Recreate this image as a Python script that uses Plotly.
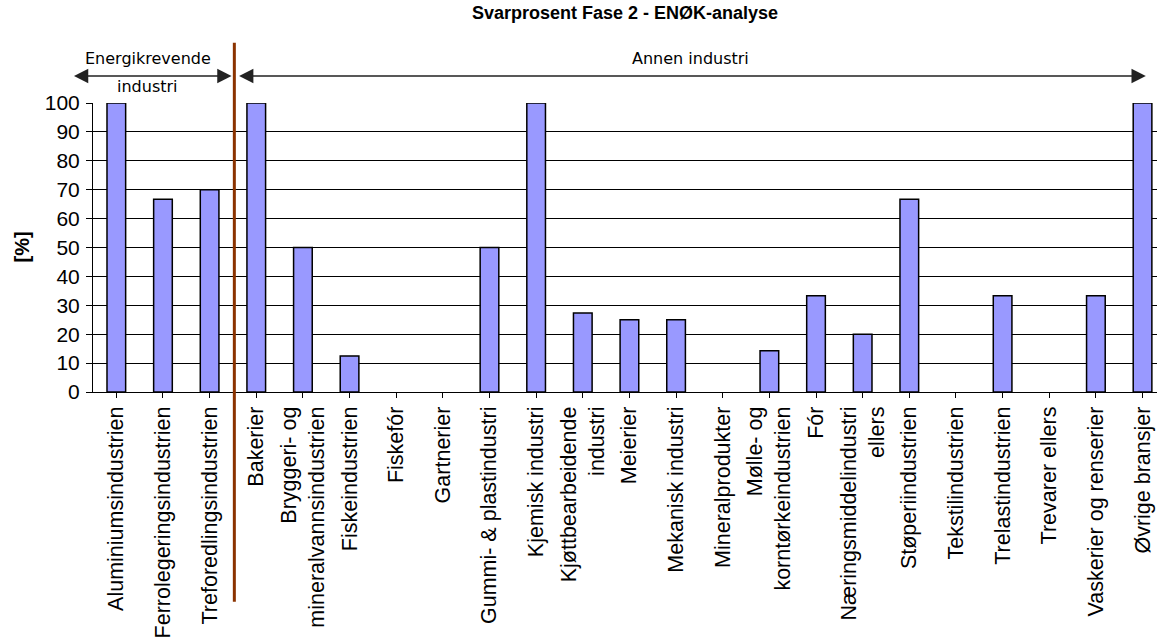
import plotly.graph_objects as go

categories = [
    "Aluminiumsindustrien", "Ferrolegeringsindustrien", "Treforedlingsindustrien",
    "Bakerier", "Bryggeri- og<br>mineralvannsindustrien", "Fiskeindustrien",
    "Fiskefór", "Gartnerier", "Gummi- & plastindustri", "Kjemisk industri",
    "Kjøttbearbeidende<br>industri", "Meierier", "Mekanisk industri",
    "Mineralprodukter", "Mølle- og<br>korntørkeindustrien", "Fór",
    "Næringsmiddelindustri<br>ellers", "Støperiindustrien", "Tekstilindustrien",
    "Trelastindustrien", "Trevarer ellers", "Vaskerier og renserier", "Øvrige bransjer",
]
values = [100, 66.7, 70, 100, 50, 12.5, 0, 0, 50, 100, 27.3, 25, 25, 0, 14.3,
          33.3, 20, 66.7, 0, 33.3, 0, 33.3, 100]
y_ticks = list(range(0, 101, 10))

title_text = "Svarprosent Fase 2 - ENØK-analyse"
group_left_1 = "Energikrevende"
group_left_2 = "industri"
group_right = "Annen industri"

FONT = "Liberation Sans, Arial, sans-serif"
HAND = "DejaVu Sans, sans-serif"

# zero-valued categories draw no bar outline
bar_y = [v if v > 0 else None for v in values]

fig = go.Figure()
fig.add_trace(go.Bar(
    x=list(range(len(categories))), y=bar_y,
    marker=dict(color="#9999FF", line=dict(color="black", width=1.5)),
    showlegend=False, hoverinfo="skip",
))

fig.update_layout(
    width=1157, height=644,
    margin=dict(l=93, r=0, t=103, b=252),
    paper_bgcolor="white", plot_bgcolor="white",
    bargap=0.6,
    font=dict(family=FONT, color="black"),
    title=dict(text=title_text, x=0.5, xref="paper", xanchor="center",
               y=1 - 13 / 644, yanchor="middle",
               font=dict(family=FONT, size=18, weight="bold", color="black")),
    xaxis=dict(
        tickmode="array", tickvals=list(range(len(categories))), ticktext=categories,
        tickangle=-90, tickfont=dict(size=21.5, family=FONT),
        range=[-0.5, 22.31], showgrid=False, showline=True, linecolor="black",
        linewidth=1, ticks="outside", ticklen=5, tickcolor="black",
        tickson="boundaries", zeroline=False, automargin=False,
    ),
    yaxis=dict(
        range=[0, 100], tickvals=y_ticks, tickfont=dict(size=21, family=FONT),
        showgrid=True, gridcolor="black", gridwidth=1,
        showline=True, linecolor="black", linewidth=1,
        ticks="outside", ticklen=6, tickcolor="black", zeroline=False,
        automargin=False, ticklabelstandoff=2,
    ),
)

# y axis title
fig.add_annotation(text="<b>[%]</b>", xref="paper", yref="paper", x=0, y=0.5,
                   xshift=-72, xanchor="center", yanchor="middle", textangle=-90,
                   showarrow=False, font=dict(family=FONT, size=20, color="black"))

# separator line
fig.add_shape(type="line", xref="x", yref="paper", x0=2.53, x1=2.53,
              y0=-0.7256, y1=1.2087, line=dict(color="#8B3300", width=3),
              layer="above")

# group arrows
arrow_y = 1.0934
for head, tail in [(2.47, -0.94), (22.07, 2.6)]:
    fig.add_annotation(x=head, y=arrow_y, ax=tail, ay=0, xref="x", yref="paper",
                       axref="x", ayref="pixel", text="", showarrow=True,
                       arrowside="end+start", arrowhead=2, startarrowhead=2,
                       arrowsize=2.2, startarrowsize=2.2, arrowwidth=1.3,
                       arrowcolor="#222", standoff=0, startstandoff=0)

for txt, xv, yv in [(group_left_1, 0.67, 1.1557), (group_left_2, 0.67, 1.0554),
                    (group_right, 12.3, 1.1557)]:
    fig.add_annotation(text=txt, x=xv, y=yv, xref="x", yref="paper",
                       xanchor="center", yanchor="middle", showarrow=False,
                       font=dict(family=HAND, size=16, color="black"))

fig.write_html("out.html", config={"displayModeBar": False},
               post_script="document.body.style.margin='0';document.body.style.overflow='hidden';")
